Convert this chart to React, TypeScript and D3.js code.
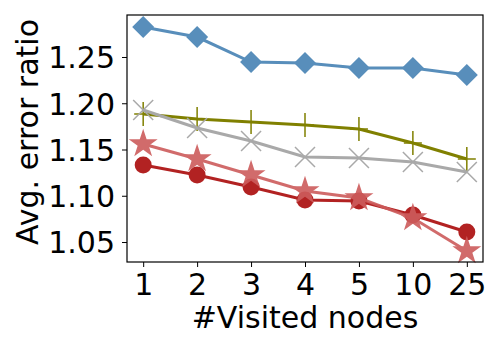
import { useRef, useEffect } from 'react';
import * as d3 from 'd3';

const categories = ['1', '2', '3', '4', '5', '10', '25'];
const yTicks = [1.05, 1.1, 1.15, 1.2, 1.25];

const blueDiamond = [1.2824, 1.2716, 1.2446, 1.2435, 1.2381, 1.2381, 1.2305];
const olivePlus = [1.1884, 1.183, 1.1797, 1.1765, 1.1722, 1.157, 1.1397];
const grayX = [1.1927, 1.1732, 1.1592, 1.1419, 1.1408, 1.1365, 1.1257];
const pinkStar = [1.1559, 1.1397, 1.1224, 1.1051, 1.0976, 1.0759, 1.0403];
const redCircle = [1.1332, 1.1224, 1.1095, 1.0954, 1.0943, 1.0792, 1.0608];

const series = [
    { values: olivePlus, color: '#808000', marker: 'plus' },
    { values: grayX, color: '#a9a9a9', marker: 'x' },
    { values: blueDiamond, color: '#4682b4', marker: 'diamond', opacity: 0.9 },
    { values: redCircle, color: '#b22222', marker: 'circle' },
    { values: pinkStar, color: '#cd5c5c', marker: 'star', opacity: 0.9 },
];

export default function App() {
    const svgRef = useRef<SVGSVGElement>(null);

    useEffect(() => {
        const svg = d3.select(svgRef.current);
        svg.selectAll('*').remove();
        const margin = { top: 15, right: 17, bottom: 88, left: 127 };
        const width = 500 - margin.left - margin.right;
        const height = 350 - margin.top - margin.bottom;
        const font = 'DejaVu Sans, sans-serif';
        const fontSize = '30px';

        const g = svg.append('g').attr('transform', `translate(${margin.left}, ${margin.top})`);

        const x = d3.scaleLinear().domain([-0.3, 6.3]).range([0, width]);
        const y = d3.scaleLinear().domain([1.0284, 1.2954]).range([height, 0]);

        // eksenler
        const xAxis = d3.axisBottom(x)
            .tickValues(d3.range(categories.length))
            .tickFormat(i => categories[i as number])
            .tickSize(5)
            .tickPadding(5);
        const yAxis = d3.axisLeft(y)
            .tickValues(yTicks)
            .tickFormat(d3.format('.2f'))
            .tickSize(5)
            .tickPadding(7);

        const xg = g.append('g').attr('transform', `translate(0, ${height})`).call(xAxis);
        const yg = g.append('g').call(yAxis);
        [xg, yg].forEach(a => {
            a.select('.domain').remove();
            a.selectAll('text').style('font-family', font).style('font-size', fontSize).attr('fill', '#000');
            a.selectAll('.tick line').attr('stroke', '#000').attr('stroke-width', 1);
        });
        yg.selectAll('text').attr('dy', '0.36em');
        xg.selectAll('text').attr('dy', '0.76em');

        const line = d3.line<number>()
            .x((_, i) => x(i))
            .y(d => y(d));

        const star = d3.symbol().type(d3.symbolStar).size(260)();
        const diamond = 'M0,-11L11,0L0,11L-11,0Z';

        series.forEach(s => {
            const sg = g.append('g').attr('opacity', s.opacity ?? 1);
            sg.append('path')
                .datum(s.values)
                .attr('d', line)
                .attr('fill', 'none')
                .attr('stroke', s.color)
                .attr('stroke-width', 3);

            const pts = sg.selectAll('.pt')
                .data(s.values)
                .enter()
                .append('g')
                .attr('transform', (d, i) => `translate(${x(i)}, ${y(d)})`);

            if (s.marker === 'circle') {
                pts.append('circle').attr('r', 8.5).attr('fill', s.color);
            } else if (s.marker === 'diamond') {
                pts.append('path').attr('d', diamond).attr('fill', s.color);
            } else if (s.marker === 'star') {
                pts.append('path').attr('d', star).attr('fill', s.color);
            } else if (s.marker === 'plus') {
                pts.append('path').attr('d', 'M-9,0H9M0,-12V12').attr('stroke', s.color).attr('stroke-width', 1.5);
            } else if (s.marker === 'x') {
                pts.append('path').attr('d', 'M-10,-10L10,10M-10,10L10,-10').attr('stroke', s.color).attr('stroke-width', 1.5);
            }
        });

        // çerçeve
        g.append('rect')
            .attr('width', width)
            .attr('height', height)
            .attr('fill', 'none')
            .attr('stroke', '#000')
            .attr('stroke-width', 1.2);

        svg.append('text')
            .attr('x', margin.left + width / 2)
            .attr('y', 328)
            .attr('text-anchor', 'middle')
            .style('font-family', font)
            .style('font-size', fontSize)
            .text('#Visited nodes');

        svg.append('text')
            .attr('transform', `translate(38, 132) rotate(-90)`)
            .attr('text-anchor', 'middle')
            .style('font-family', font)
            .style('font-size', fontSize)
            .text('Avg. error ratio');
    }, []);

    return <svg ref={svgRef} width={500} height={350} style={{ position: 'absolute', left: 0, top: 0 }}></svg>;
}
